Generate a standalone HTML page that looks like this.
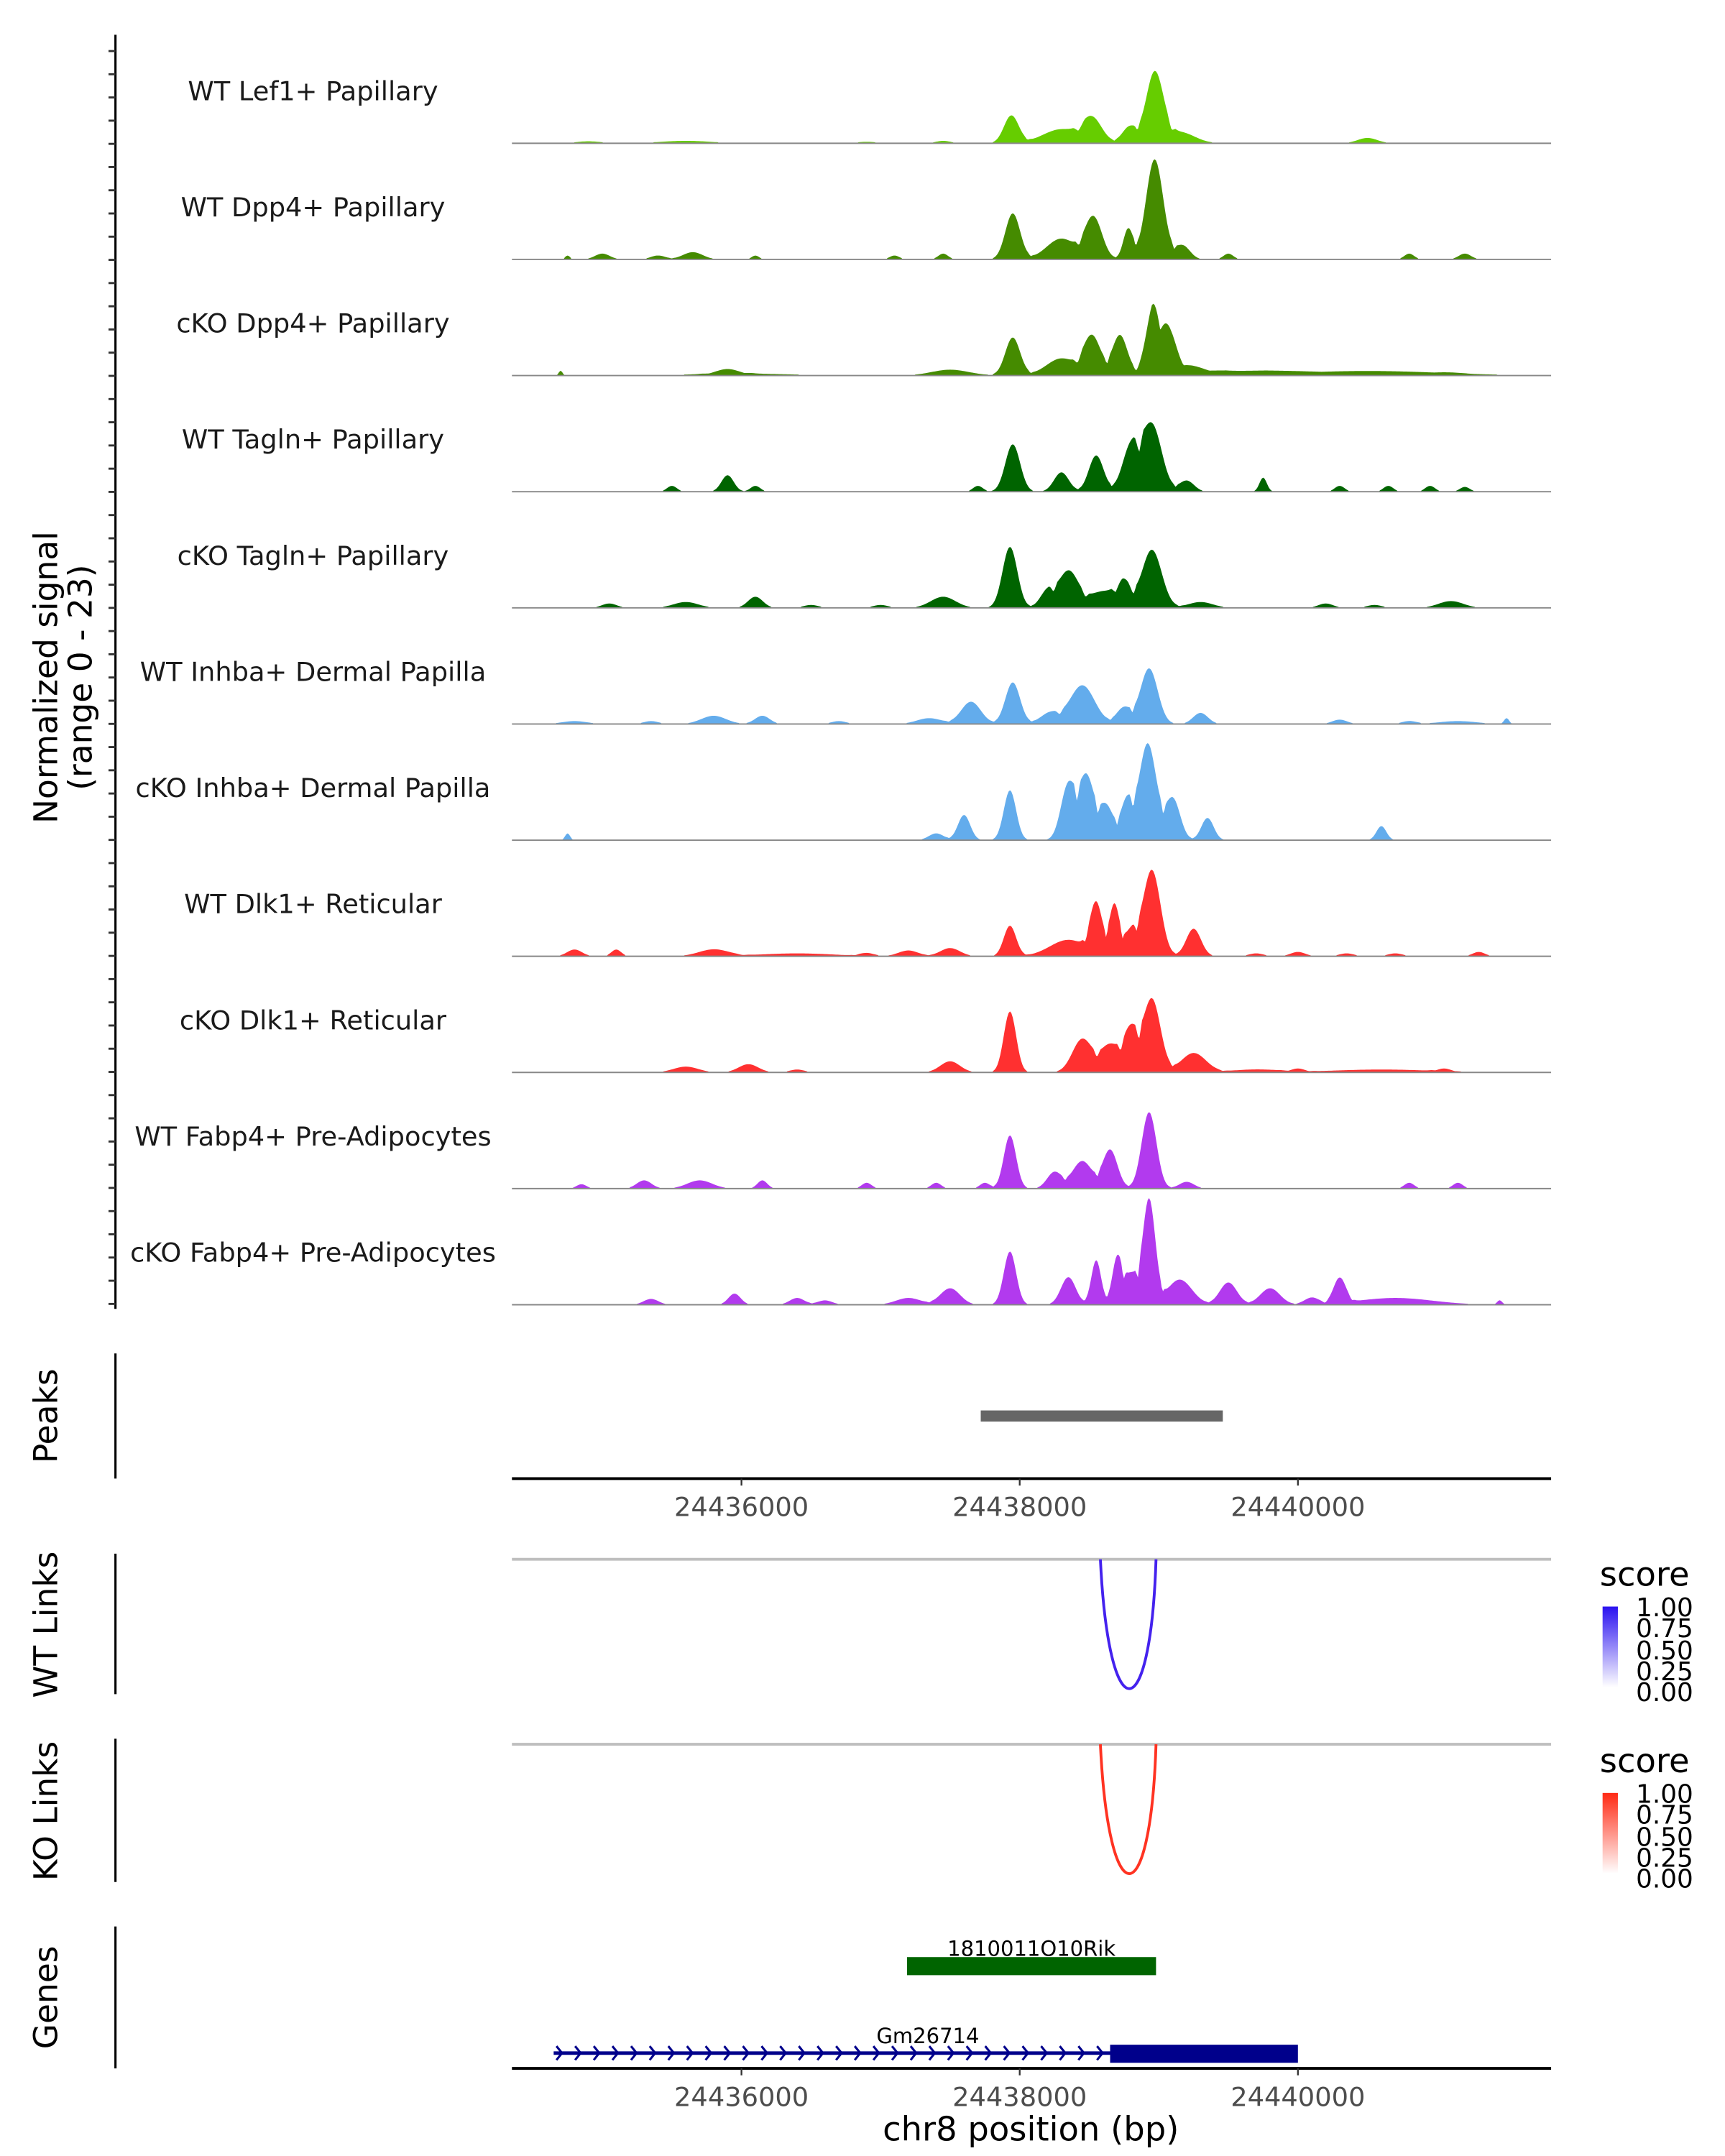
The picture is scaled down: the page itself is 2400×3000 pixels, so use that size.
<!DOCTYPE html>
<html><head><meta charset="utf-8"><style>
html,body{margin:0;padding:0;background:#fff;}
svg{display:block;font-family:"DejaVu Sans","Liberation Sans",sans-serif;}
</style></head><body>
<svg id="fig" width="2400" height="3000" viewBox="0 0 1240 1550" xmlns="http://www.w3.org/2000/svg">
<rect width="1240" height="1550" fill="#fff"/>
<g id="tracks"></g>
<line x1="83" y1="25" x2="83" y2="941" stroke="#000" stroke-width="1.6"/>
<g id="yticks"></g>
<text transform="translate(41,487) rotate(-90)" text-anchor="middle" font-size="23.5" fill="#000"><tspan x="0" dy="0">Normalized signal</tspan><tspan x="0" dy="25">(range 0 - 23)</tspan></text>

<line x1="83" y1="973" x2="83" y2="1063" stroke="#000" stroke-width="1.6"/>
<text transform="translate(41,1018) rotate(-90)" text-anchor="middle" font-size="23.5">Peaks</text>
<rect id="peakbar" y="1014" height="8" fill="#666"/>
<line x1="368" y1="1063" x2="1115" y2="1063" stroke="#000" stroke-width="2"/>
<g id="xt1"></g>

<line x1="83" y1="1117" x2="83" y2="1218" stroke="#000" stroke-width="1.6"/>
<text transform="translate(41,1168) rotate(-90)" text-anchor="middle" font-size="23.5">WT Links</text>
<line x1="368" y1="1121" x2="1115" y2="1121" stroke="#bebebe" stroke-width="2"/>
<path id="wtarc" fill="none" stroke="#4422ee" stroke-width="2"/>
<defs>
<linearGradient id="gb" x1="0" y1="1" x2="0" y2="0"><stop offset="0" stop-color="#fff"/><stop offset="1" stop-color="#2a12f0"/></linearGradient>
<linearGradient id="gr" x1="0" y1="1" x2="0" y2="0"><stop offset="0" stop-color="#fff"/><stop offset="1" stop-color="#ff2a14"/></linearGradient>
</defs>
<g>
<text x="1150" y="1140" font-size="24">score</text>
<rect x="1152" y="1155" width="11" height="58" fill="url(#gb)"/>
<g font-size="18.5" fill="#000">
<text x="1176" y="1162">1.00</text><text x="1176" y="1177">0.75</text><text x="1176" y="1193">0.50</text><text x="1176" y="1208">0.25</text><text x="1176" y="1223">0.00</text>
</g></g>

<line x1="83" y1="1250" x2="83" y2="1353" stroke="#000" stroke-width="1.6"/>
<text transform="translate(41,1302) rotate(-90)" text-anchor="middle" font-size="23.5">KO Links</text>
<line x1="368" y1="1254" x2="1115" y2="1254" stroke="#bebebe" stroke-width="2"/>
<path id="koarc" fill="none" stroke="#ff3322" stroke-width="2"/>
<g>
<text x="1150" y="1274" font-size="24">score</text>
<rect x="1152" y="1289" width="11" height="58" fill="url(#gr)"/>
<g font-size="18.5" fill="#000">
<text x="1176" y="1296">1.00</text><text x="1176" y="1311">0.75</text><text x="1176" y="1327">0.50</text><text x="1176" y="1342">0.25</text><text x="1176" y="1357">0.00</text>
</g></g>

<line x1="83" y1="1385" x2="83" y2="1487" stroke="#000" stroke-width="1.6"/>
<text transform="translate(41,1436) rotate(-90)" text-anchor="middle" font-size="23.5">Genes</text>
<g id="genes"></g>
<line x1="368" y1="1487" x2="1115" y2="1487" stroke="#000" stroke-width="2"/>
<g id="xt2"></g>
<text x="741" y="1539" text-anchor="middle" font-size="24">chr8 position (bp)</text>
</svg>
<script>
const NS="http://www.w3.org/2000/svg";
const trackNames=["WT Lef1+ Papillary","WT Dpp4+ Papillary","cKO Dpp4+ Papillary","WT Tagln+ Papillary","cKO Tagln+ Papillary","WT Inhba+ Dermal Papilla","cKO Inhba+ Dermal Papilla","WT Dlk1+ Reticular","cKO Dlk1+ Reticular","WT Fabp4+ Pre-Adipocytes","cKO Fabp4+ Pre-Adipocytes"];
const trackColors=["#66cd00","#458b00","#458b00","#006400","#006400","#63acec","#63acec","#ff3030","#ff3030","#b23aee","#b23aee"];
const xTicks=[24436000,24438000,24440000];
const xDomain=[24434350,24441820];
const yMax=23;
const pos0=[24437940,24438300,24438520,24438790,24438970,24439150,24440500,24434900,24435600,24436900,24437450];
const val0=[5.7,2.9,4.9,3.4,14.4,2.3,1.1,0.4,0.5,0.3,0.5];
const wid0=[60,150,80,60,70,120,80,100,200,80,60];
const pos1=[24437950,24438300,24438530,24438780,24438970,24439170,24439500,24434750,24435000,24435400,24435650,24436100,24437100,24437450,24440800,24441200];
const val1=[9.5,4.3,8.6,6.3,20.7,2.9,1.2,0.8,1.2,0.8,1.5,0.8,0.8,1.2,1.2,1.2];
const wid1=[60,120,70,40,70,60,40,20,60,60,80,30,40,40,40,50];
const pos2=[24437950,24438300,24438520,24438720,24438960,24439050,24439200,24439600,24437500,24434700,24435900,24436000,24440500,24441050];
const val2=[7.8,3.4,7.8,8,11,8,1.6,0.8,1.2,1.0,1.0,0.4,0.7,0.5];
const wid2=[60,120,70,60,60,80,150,800,150,15,100,400,600,200];
const pos3=[24437950,24438300,24438550,24438800,24438950,24439200,24439750,24435900,24435500,24436100,24437700,24440300,24440650,24440950,24441200];
const val3=[9.8,4,7.5,9.2,13.8,2.3,2.9,3.4,1.2,1.2,1.2,1.2,1.2,1.2,1.0];
const wid3=[60,60,60,70,80,60,30,50,40,40,40,40,40,40,40];
const pos4=[24437930,24438350,24438200,24438600,24438950,24438750,24437450,24439300,24436100,24435600,24435050,24436500,24437000,24440200,24440550,24441100];
const val4=[12.6,7.5,3.4,3.4,12,4.6,2.3,1.2,2.3,1.2,0.9,0.6,0.6,0.9,0.6,1.4];
const wid4=[60,80,60,120,80,60,100,100,60,100,60,60,60,60,60,100];
const pos5=[24437950,24437650,24438450,24438220,24438930,24438750,24437350,24439300,24435800,24436150,24435350,24434800,24436700,24440300,24440800,24441150,24441500];
const val5=[8.6,4.6,8,2.3,11.5,3.4,1.2,2.3,1.7,1.7,0.6,0.6,0.6,0.9,0.6,0.6,1.2];
const wid5=[60,80,100,80,70,60,100,60,100,60,60,100,60,60,60,150,20];
const pos6=[24437930,24437600,24437400,24438350,24438480,24438620,24438920,24438770,24439100,24439350,24440600,24434750];
const val6=[10.3,5.2,1.4,11.5,13,7.2,20,8,8.6,4.6,2.9,1.4];
const wid6=[50,50,60,60,60,60,70,50,60,50,40,20];
const pos7=[24438950,24437930,24438550,24438680,24438350,24438800,24439250,24437500,24437200,24434800,24435100,24435800,24436400,24436900,24439700,24440000,24440350,24440700,24441300];
const val7=[17.8,6.3,10.3,10.3,3.4,5.2,5.7,1.7,1.2,1.4,1.4,1.4,0.6,0.6,0.6,0.9,0.6,0.6,0.9];
const wid7=[70,50,50,40,150,60,60,80,80,60,40,120,300,60,60,60,60,60,50];
const pos8=[24437930,24438950,24438800,24438450,24438650,24439250,24437500,24436050,24435600,24436400,24439700,24440000,24440600,24441050];
const val8=[12.6,15.2,8.6,6.9,5.7,4,2.3,1.7,1.2,0.6,0.6,0.6,0.6,0.6];
const wid8=[50,70,60,80,80,100,80,80,100,60,200,60,400,60];
const pos9=[24438930,24437930,24438650,24438450,24438250,24439200,24435300,24435700,24436150,24436900,24437400,24437750,24440800,24441150,24434850];
const val9=[15.8,11,8,5.7,3.4,1.4,1.7,1.7,1.7,1.2,1.2,1.2,1.2,1.2,0.9];
const wid9=[60,50,60,80,60,60,60,100,40,40,40,40,40,40,40];
const pos10=[24438930,24437930,24438350,24438550,24438700,24438800,24439150,24439500,24439800,24437500,24437200,24440300,24440100,24435350,24435950,24436400,24436600,24440700,24441450];
const val10=[21.5,11,5.7,9.2,9.2,6.3,5.2,4.6,3.4,3.4,1.4,5.2,1.4,1.2,2.3,1.4,0.9,1.4,0.9];
const wid10=[50,50,60,40,40,60,100,70,80,80,100,50,60,60,50,60,60,300,20];
const trackPos=[pos0,pos1,pos2,pos3,pos4,pos5,pos6,pos7,pos8,pos9,pos10];
const trackVal=[val0,val1,val2,val3,val4,val5,val6,val7,val8,val9,val10];
const trackWid=[wid0,wid1,wid2,wid3,wid4,wid5,wid6,wid7,wid8,wid9,wid10];
const peakRegion=[24437720,24439460];
const wtLink=[24438580,24438980];
const koLink=[24438580,24438980];
const gene1=[24437190,24438980];
const gene2=[24434650,24438650,24440000];

const X0=368,X1=1115;
function xs(bp){return X0+(bp-xDomain[0])/(xDomain[1]-xDomain[0])*(X1-X0);}
const T0=103,TS=83.5,TH=80;
function ys(v,i){return T0+i*TS - v/yMax*TH;}

const tg=document.getElementById('tracks');
trackNames.forEach((nm,i)=>{
  const g=document.createElementNS(NS,'g');
  
  
  const P=trackPos[i],V=trackVal[i],W=trackWid[i];
  let d='M'+X0+','+ys(0,i);
  for(let x=X0;x<=X1;x+=1){
    const bp=xDomain[0]+(x-X0)/(X1-X0)*(xDomain[1]-xDomain[0]);
    let v=0,s=0;
    for(let k=0;k<P.length;k++){const t=(bp-P[k])/(W[k]*1.25);const c=V[k]*Math.exp(-t*t);if(c>v)v=c;s+=c;}
    v=Math.min(s,v*1.35);
    if(v<0.2)v=0;
    d+=' L'+x+','+ys(v,i).toFixed(2);
  }
  d+=' L'+X1+','+ys(0,i)+' Z';
  const p=document.createElementNS(NS,'path');
  p.setAttribute('d',d);p.setAttribute('fill',trackColors[i]);
  
  
  g.appendChild(p);
  const bl=document.createElementNS(NS,'line');
  bl.setAttribute('x1',X0);bl.setAttribute('x2',X1);bl.setAttribute('y1',ys(0,i));bl.setAttribute('y2',ys(0,i));
  bl.setAttribute('stroke','#888');bl.setAttribute('stroke-width','1');
  
  
  g.appendChild(bl);
  const t=document.createElementNS(NS,'text');
  t.setAttribute('x',225);t.setAttribute('y',ys(0,i)-31);t.setAttribute('text-anchor','middle');
  t.setAttribute('font-size','19');t.setAttribute('fill','#1a1a1a');t.textContent=nm;
  
  
  g.appendChild(t);
  tg.appendChild(g);
});
const yt=document.getElementById('yticks');
for(let y=36.7;y<941;y+=16.68){
  const l=document.createElementNS(NS,'line');
  l.setAttribute('x1',78);l.setAttribute('x2',83);l.setAttribute('y1',y);l.setAttribute('y2',y);
  l.setAttribute('stroke','#333');l.setAttribute('stroke-width','1.5');
  
  
  yt.appendChild(l);
}
const pb=document.getElementById('peakbar');
pb.setAttribute('x',xs(peakRegion[0]));pb.setAttribute('width',xs(peakRegion[1])-xs(peakRegion[0]));
function ticks(id,y){
  const g=document.getElementById(id);
  xTicks.forEach(v=>{
    const l=document.createElementNS(NS,'line');
    l.setAttribute('x1',xs(v));l.setAttribute('x2',xs(v));l.setAttribute('y1',y);l.setAttribute('y2',y+5);
    l.setAttribute('stroke','#333');l.setAttribute('stroke-width','1.2');
    
    
    g.appendChild(l);
    const t=document.createElementNS(NS,'text');
    t.setAttribute('x',xs(v));t.setAttribute('y',y+27);t.setAttribute('text-anchor','middle');
    t.setAttribute('font-size','19');t.setAttribute('fill','#4d4d4d');t.textContent=v;
    
    
    g.appendChild(t);
  });
}
ticks('xt1',1063);ticks('xt2',1487);
function arc(id,lk,y0){
  const a=xs(lk[0]),b=xs(lk[1]);
  document.getElementById(id).setAttribute('d',`M${a},${y0} C${a+6},${y0+124} ${b-4},${y0+124} ${b},${y0}`);
}
arc('wtarc',wtLink,1121);arc('koarc',koLink,1254);
const gg=document.getElementById('genes');
function el(tag,attrs,name){const e=document.createElementNS(NS,tag);for(const k in attrs)e.setAttribute(k,attrs[k]);
  
  
  gg.appendChild(e);return e;}
el('rect',{x:xs(gene1[0]),y:1407,width:xs(gene1[1])-xs(gene1[0]),height:13,fill:'#006400'},'gene-1810011o10rik');
const g1t=el('text',{x:(xs(gene1[0])+xs(gene1[1]))/2,y:1406,'text-anchor':'middle','font-size':'15'},'gene-label-1810011o10rik');g1t.textContent='1810011O10Rik';
el('line',{x1:xs(gene2[0]),x2:xs(gene2[1]),y1:1476,y2:1476,stroke:'#00008b','stroke-width':'2.5'},'gene-gm26714-intron');
let cd='';
for(let x=xs(gene2[0])+2;x<xs(gene2[1])-4;x+=13.4){cd+=`M${x},1471 L${x+4},1476 L${x},1481 `;}
el('path',{d:cd,fill:'none',stroke:'#00008b','stroke-width':'1.6'},'gene-strand-arrows');
el('rect',{x:xs(gene2[1]),y:1470,width:xs(gene2[2])-xs(gene2[1]),height:13,fill:'#00008b'},'gene-gm26714-exon');
const g2t=el('text',{x:667,y:1469,'text-anchor':'middle','font-size':'15'},'gene-label-gm26714');g2t.textContent='Gm26714';
</script>
</body></html>
